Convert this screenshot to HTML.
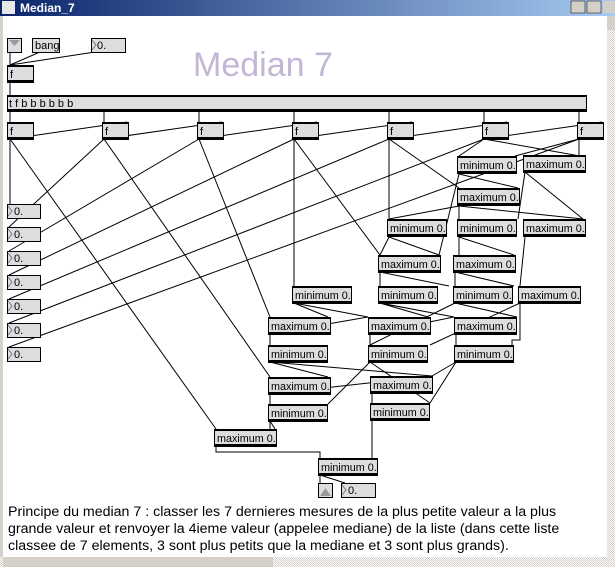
<!DOCTYPE html>
<html><head><meta charset="utf-8"><style>
body{margin:0;width:615px;height:567px;overflow:hidden;background:#fff;font-family:"Liberation Sans",sans-serif}
svg{position:absolute;left:0;top:0}
.ln{stroke:#000;stroke-width:1;fill:none}
</style></head><body>
<svg width="615" height="567" viewBox="0 0 615 567">
<defs><linearGradient id="tb" x1="0" x2="1"><stop offset="0" stop-color="#0a246a"/><stop offset="1" stop-color="#a6caf0"/></linearGradient>
<pattern id="sc" width="2" height="2" patternUnits="userSpaceOnUse"><rect width="2" height="2" fill="#fff"/><rect width="1" height="1" fill="#d4d0c8"/><rect x="1" y="1" width="1" height="1" fill="#d4d0c8"/></pattern></defs>
<rect x="0" y="0" width="615" height="16" fill="url(#tb)"/>
<rect x="2" y="1" width="13" height="13" fill="#e8e8e8"/>
<text x="20" y="12" font-family="Liberation Sans" font-weight="bold" font-size="12" fill="#fff">Median_7</text>
<rect x="571" y="1" width="14" height="12" fill="#d4d0c8" stroke="#000" stroke-width=".5"/><rect x="587" y="1" width="14" height="12" fill="#d4d0c8" stroke="#000" stroke-width=".5"/><rect x="603" y="1" width="12" height="12" fill="#d4d0c8"/>
<rect x="0" y="16" width="3" height="551" fill="#d4d0c8"/>
<rect x="607" y="16" width="8" height="541" fill="url(#sc)"/>
<rect x="607" y="16" width="8" height="14" fill="#d4d0c8"/>
<rect x="0" y="557" width="615" height="10" fill="url(#sc)"/>
<rect x="3" y="557" width="270" height="10" fill="#d4d0c8"/>
<text x="193" y="76" font-family="Liberation Sans" font-size="34" fill="#c3b6d6">Median 7</text>
<g font-family="Liberation Sans" font-size="14.2" fill="#000">
<text x="8" y="516">Principe du median 7 : classer les 7 dernieres mesures de la plus petite valeur a la plus</text>
<text x="8" y="533">grande valeur et renvoyer la 4ieme valeur (appelee mediane) de la liste (dans cette liste</text>
<text x="8" y="550">classee de 7 elements, 3 sont plus petits que la mediane et 3 sont plus grands).</text>
</g>

<g class="ln">
<path d="M10 52V65M10 65L40 52M10 65L95 52M10 82V95"/>
<path d="M10 111V122M104 111V122M199 111V122M294 111V122M389 111V122M484 111V122M579 111V122"/>
<path d="M10 139L127 122M104 139L222 122M199 139L317 122M294 139L412 122M389 139L507 122M484 139L602 122"/>
<path d="M10 139V204M104 139L9 227M199 139L9 251M294 139L9 275M389 139L9 299M484 139L9 323M579 139L9 347"/>
<path d="M10 139L216 429M104 139L270 377M199 139L270 317M294 139V286M294 139L380 255M389 139V219M389 139L459 188M484 139L459 156M484 139L580 156M579 139V156M579 139L515 156"/>
<path d="M459 174L439 255M459 174L518 188M525 172L518 219M525 172L583 219M459 206V219M459 206L583 219M459 206L389 219"/>
<path d="M389 237L380 255M389 237L439 255M459 237V255M459 237L514 255"/>
<path d="M380 272V286M380 272L449 286M455 272V286M455 272L514 286M525 237L520 286"/>
<path d="M294 303L328 317M294 303L368 317M380 303L428 317M380 303L454 317M455 303L517 317M455 303L370 345M520 303L430 345"/>
<path d="M270 334V345M270 334L368 317M370 334V345M370 334L454 317M456 334V345M520 303V340H512V345"/>
<path d="M270 362L328 377M270 362L432 376M370 362L328 404M370 362L430 403M456 362L432 376M456 362L430 403"/>
<path d="M270 394V404M270 394L432 376M372 393V403M270 421V429M270 421L275 429M372 420V458M216 446V452H320V458M320 475V483M320 475L345 483"/>
</g>

<g font-family="Liberation Sans" font-size="11">
<rect x="7.5" y="38.5" width="14" height="14" fill="#ddd" stroke="#000"/><path d="M9 40L14.5 46L20 40Z" fill="#999"/>
<rect x="32.5" y="38.5" width="27" height="14" fill="#ddd" stroke="#000"/><text x="35" y="49">bang</text>
<rect x="91.5" y="38.5" width="34" height="14" fill="#ddd" stroke="#000"/><path d="M92 40L96 45L92 50" fill="none" stroke="#777"/><text x="97" y="49">0.</text>

<rect x="7.5" y="65.5" width="26" height="17" fill="#ddd" stroke="#000"/><rect x="7" y="65" width="27" height="2"/><rect x="7" y="80" width="27" height="2"/><text x="10" y="78">f</text>
<rect x="7.5" y="95.5" width="579" height="16" fill="#ddd" stroke="#000"/><rect x="7" y="95" width="580" height="2"/><rect x="7" y="109" width="580" height="2"/><text x="9" y="107">t f b b b b b b</text>

<g><rect x="7.5" y="122.5" width="26" height="17" fill="#ddd" stroke="#000"/><rect x="7" y="122" width="27" height="2"/><rect x="7" y="137" width="27" height="2"/><text x="10" y="135">f</text></g>
<g><rect x="102.5" y="122.5" width="26" height="17" fill="#ddd" stroke="#000"/><rect x="102" y="122" width="27" height="2"/><rect x="102" y="137" width="27" height="2"/><text x="105" y="135">f</text></g>
<g><rect x="197.5" y="122.5" width="26" height="17" fill="#ddd" stroke="#000"/><rect x="197" y="122" width="27" height="2"/><rect x="197" y="137" width="27" height="2"/><text x="200" y="135">f</text></g>
<g><rect x="292.5" y="122.5" width="26" height="17" fill="#ddd" stroke="#000"/><rect x="292" y="122" width="27" height="2"/><rect x="292" y="137" width="27" height="2"/><text x="295" y="135">f</text></g>
<g><rect x="387.5" y="122.5" width="26" height="17" fill="#ddd" stroke="#000"/><rect x="387" y="122" width="27" height="2"/><rect x="387" y="137" width="27" height="2"/><text x="390" y="135">f</text></g>
<g><rect x="482.5" y="122.5" width="26" height="17" fill="#ddd" stroke="#000"/><rect x="482" y="122" width="27" height="2"/><rect x="482" y="137" width="27" height="2"/><text x="485" y="135">f</text></g>
<g><rect x="577.5" y="122.5" width="26" height="17" fill="#ddd" stroke="#000"/><rect x="577" y="122" width="27" height="2"/><rect x="577" y="137" width="27" height="2"/><text x="580" y="135">f</text></g>

<g fill="#ddd" stroke="#000">
<rect x="7.5" y="204.5" width="33" height="14"/><rect x="7.5" y="227.5" width="33" height="14"/><rect x="7.5" y="251.5" width="33" height="14"/><rect x="7.5" y="275.5" width="33" height="14"/><rect x="7.5" y="299.5" width="33" height="14"/><rect x="7.5" y="323.5" width="33" height="14"/><rect x="7.5" y="347.5" width="33" height="14"/>
<rect x="341.5" y="483.5" width="34" height="14"/><rect x="318.5" y="483.5" width="14" height="14"/>
</g>
<path d="M320 496L325.5 488L331 496Z" fill="#999"/>
<g fill="none" stroke="#777"><path d="M8 206L12 211L8 216M8 229L12 234L8 239M8 253L12 258L8 263M8 277L12 282L8 287M8 301L12 306L8 311M8 325L12 330L8 335M8 349L12 354L8 359M342 485L346 490L342 495"/></g>
<g><text x="14" y="215">0.</text><text x="14" y="238">0.</text><text x="14" y="262">0.</text><text x="14" y="286">0.</text><text x="14" y="310">0.</text><text x="14" y="334">0.</text><text x="14" y="358">0.</text><text x="348" y="494">0.</text></g>
</g>

<g font-family="Liberation Sans" font-size="10.8">
<g transform="translate(457,156)"><rect x=".5" y=".5" width="59" height="17" fill="#ddd" stroke="#000"/><rect width="60" height="2"/><rect y="15" width="60" height="2"/><text x="3" y="13">minimum 0.</text></g>
<g transform="translate(523,155)"><rect x=".5" y=".5" width="62" height="17" fill="#ddd" stroke="#000"/><rect width="63" height="2"/><rect y="15" width="63" height="2"/><text x="3" y="13">maximum 0.</text></g>
<g transform="translate(457,188)"><rect x=".5" y=".5" width="62" height="17" fill="#ddd" stroke="#000"/><rect width="63" height="2"/><rect y="15" width="63" height="2"/><text x="3" y="13">maximum 0.</text></g>
<g transform="translate(387,219)"><rect x=".5" y=".5" width="59" height="17" fill="#ddd" stroke="#000"/><rect width="60" height="2"/><rect y="15" width="60" height="2"/><text x="3" y="13">minimum 0.</text></g>
<g transform="translate(457,219)"><rect x=".5" y=".5" width="59" height="17" fill="#ddd" stroke="#000"/><rect width="60" height="2"/><rect y="15" width="60" height="2"/><text x="3" y="13">minimum 0.</text></g>
<g transform="translate(523,219)"><rect x=".5" y=".5" width="62" height="17" fill="#ddd" stroke="#000"/><rect width="63" height="2"/><rect y="15" width="63" height="2"/><text x="3" y="13">maximum 0.</text></g>
<g transform="translate(378,255)"><rect x=".5" y=".5" width="62" height="17" fill="#ddd" stroke="#000"/><rect width="63" height="2"/><rect y="15" width="63" height="2"/><text x="3" y="13">maximum 0.</text></g>
<g transform="translate(453,255)"><rect x=".5" y=".5" width="62" height="17" fill="#ddd" stroke="#000"/><rect width="63" height="2"/><rect y="15" width="63" height="2"/><text x="3" y="13">maximum 0.</text></g>
<g transform="translate(292,286)"><rect x=".5" y=".5" width="59" height="17" fill="#ddd" stroke="#000"/><rect width="60" height="2"/><rect y="15" width="60" height="2"/><text x="3" y="13">minimum 0.</text></g>
<g transform="translate(378,286)"><rect x=".5" y=".5" width="59" height="17" fill="#ddd" stroke="#000"/><rect width="60" height="2"/><rect y="15" width="60" height="2"/><text x="3" y="13">minimum 0.</text></g>
<g transform="translate(453,286)"><rect x=".5" y=".5" width="59" height="17" fill="#ddd" stroke="#000"/><rect width="60" height="2"/><rect y="15" width="60" height="2"/><text x="3" y="13">minimum 0.</text></g>
<g transform="translate(518,286)"><rect x=".5" y=".5" width="62" height="17" fill="#ddd" stroke="#000"/><rect width="63" height="2"/><rect y="15" width="63" height="2"/><text x="3" y="13">maximum 0.</text></g>
<g transform="translate(268,317)"><rect x=".5" y=".5" width="62" height="17" fill="#ddd" stroke="#000"/><rect width="63" height="2"/><rect y="15" width="63" height="2"/><text x="3" y="13">maximum 0.</text></g>
<g transform="translate(368,317)"><rect x=".5" y=".5" width="62" height="17" fill="#ddd" stroke="#000"/><rect width="63" height="2"/><rect y="15" width="63" height="2"/><text x="3" y="13">maximum 0.</text></g>
<g transform="translate(454,317)"><rect x=".5" y=".5" width="62" height="17" fill="#ddd" stroke="#000"/><rect width="63" height="2"/><rect y="15" width="63" height="2"/><text x="3" y="13">maximum 0.</text></g>
<g transform="translate(268,345)"><rect x=".5" y=".5" width="59" height="17" fill="#ddd" stroke="#000"/><rect width="60" height="2"/><rect y="15" width="60" height="2"/><text x="3" y="13">minimum 0.</text></g>
<g transform="translate(368,345)"><rect x=".5" y=".5" width="59" height="17" fill="#ddd" stroke="#000"/><rect width="60" height="2"/><rect y="15" width="60" height="2"/><text x="3" y="13">minimum 0.</text></g>
<g transform="translate(454,345)"><rect x=".5" y=".5" width="59" height="17" fill="#ddd" stroke="#000"/><rect width="60" height="2"/><rect y="15" width="60" height="2"/><text x="3" y="13">minimum 0.</text></g>
<g transform="translate(268,377)"><rect x=".5" y=".5" width="62" height="17" fill="#ddd" stroke="#000"/><rect width="63" height="2"/><rect y="15" width="63" height="2"/><text x="3" y="13">maximum 0.</text></g>
<g transform="translate(370,376)"><rect x=".5" y=".5" width="62" height="17" fill="#ddd" stroke="#000"/><rect width="63" height="2"/><rect y="15" width="63" height="2"/><text x="3" y="13">maximum 0.</text></g>
<g transform="translate(268,404)"><rect x=".5" y=".5" width="59" height="17" fill="#ddd" stroke="#000"/><rect width="60" height="2"/><rect y="15" width="60" height="2"/><text x="3" y="13">minimum 0.</text></g>
<g transform="translate(370,403)"><rect x=".5" y=".5" width="59" height="17" fill="#ddd" stroke="#000"/><rect width="60" height="2"/><rect y="15" width="60" height="2"/><text x="3" y="13">minimum 0.</text></g>
<g transform="translate(214,429)"><rect x=".5" y=".5" width="62" height="17" fill="#ddd" stroke="#000"/><rect width="63" height="2"/><rect y="15" width="63" height="2"/><text x="3" y="13">maximum 0.</text></g>
<g transform="translate(318,458)"><rect x=".5" y=".5" width="59" height="17" fill="#ddd" stroke="#000"/><rect width="60" height="2"/><rect y="15" width="60" height="2"/><text x="3" y="13">minimum 0.</text></g>
</g>
</svg>
</body></html>
